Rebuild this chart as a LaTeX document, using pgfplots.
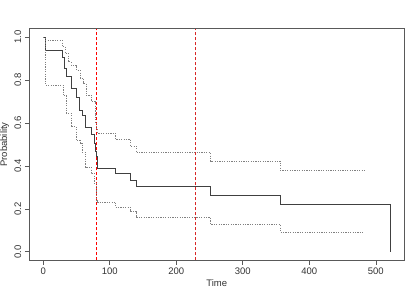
\documentclass[border=0pt]{standalone}
\usepackage{pgfplots}
\pgfplotsset{compat=1.18}
\usepackage{fontspec}
\setmainfont{Liberation Sans}
\begin{document}
\begin{tikzpicture}
\useasboundingbox (-29.3pt,-36.7pt) rectangle (389.7pt,260.3pt);
\begin{axis}[
  at={(0,0)}, anchor=south west,
  scale only axis, width=375pt, height=231.6pt,
  xmin=-20.88, xmax=542.88, ymin=-0.04, ymax=1.04,
  xtick={0,100,200,300,400,500},
  ytick={0,0.2,0.4,0.6,0.8,1.0},
  yticklabel style={rotate=90, anchor=south, /pgf/number format/fixed, /pgf/number format/fixed zerofill, /pgf/number format/precision=1},
  /pgf/number format/assume math mode=true,
  tick align=outside, major tick length=4.5pt,
  xtick pos=bottom, ytick pos=left,
  axis line style={black!65, line width=0.55pt},
  every tick/.style={black!65, line width=0.55pt},
  tick label style={font=\fontsize{9.5}{11}\selectfont, black!80},
  label style={font=\fontsize{9.5}{11}\selectfont, black!80},
  xlabel={Time}, ylabel={Probability},
  xlabel style={at={(axis description cs:0.5,-0.1006)}, anchor=center},
  ylabel style={at={(axis description cs:-0.066,0.5)}, anchor=center},
  clip=false,
]
% vertical reference lines
\addplot[color=red, line width=0.6pt, dash pattern=on 3pt off 2pt] coordinates {(80.5,-0.04)(80.5,1.04)};
\addplot[color=red!70!gray, line width=0.5pt, dash pattern=on 3pt off 2pt] coordinates {(228.7,-0.04)(228.7,1.04)};
% Kaplan-Meier estimate
\addplot[const plot, color=black!75, solid, line width=0.55pt] coordinates {
(0,1.0)(3,0.94)(28.5,0.907)(31.5,0.855)(35,0.82)(41.5,0.76)(49.5,0.72)(55,0.66)(58.6,0.634)(63,0.58)(71.6,0.548)(77,0.506)(79,0.47)(80,0.443)(81,0.415)(82,0.39)(108.7,0.366)(131,0.334)(140,0.303)(251.6,0.264)(356,0.221)(522,0.221)(522,0)
};
% upper confidence limit
\addplot[const plot, color=black!50, line width=0.5pt, dash pattern=on 1.2pt off 1.2pt] coordinates {
(0,1.0)(3,0.987)(28,0.956)(32.5,0.925)(37.5,0.886)(42,0.87)(50,0.847)(55,0.81)(60,0.785)(64,0.73)(72.6,0.70)(77.6,0.64)(79,0.60)(80,0.575)(82,0.552)(108.7,0.524)(131,0.493)(140,0.462)(251.6,0.423)(356,0.381)(483,0.381)
};
% lower confidence limit
\addplot[const plot, color=black!50, line width=0.5pt, dash pattern=on 1.2pt off 1.2pt] coordinates {
(0,1.0)(3,0.777)(30,0.728)(35,0.647)(41.5,0.583)(49.5,0.52)(55,0.505)(58.6,0.466)(63,0.396)(71.6,0.366)(77,0.32)(80,0.241)(82,0.233)(108.7,0.207)(131,0.187)(140,0.159)(251.6,0.128)(356,0.093)(483,0.093)
};
\end{axis}
\end{tikzpicture}
\end{document}
